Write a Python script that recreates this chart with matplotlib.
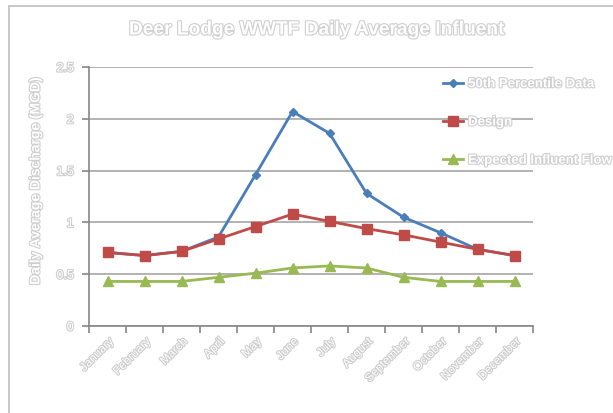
import numpy as np
import matplotlib.pyplot as plt
import matplotlib.patheffects as pe
from matplotlib.patches import Rectangle

months = ["January", "February", "March", "April", "May", "June", "July",
          "August", "September", "October", "November", "December"]
pct50 = [0.71, 0.68, 0.72, 0.86, 1.46, 2.07, 1.86, 1.28, 1.05, 0.90, 0.74, 0.68]
design = [0.71, 0.68, 0.72, 0.84, 0.96, 1.08, 1.01, 0.94, 0.88, 0.81, 0.74, 0.68]
expected = [0.43, 0.43, 0.43, 0.47, 0.51, 0.56, 0.58, 0.56, 0.47, 0.43, 0.43, 0.43]

plt.rcParams["font.family"] = ["Liberation Sans", "DejaVu Sans"]

# white lettering with a soft grey outline
glow = [pe.withStroke(linewidth=1.6, foreground="#cfcfcf")]
txt = dict(color="white", path_effects=glow)

fig = plt.figure(figsize=(6.13, 4.13), dpi=100)
fig.patches.append(Rectangle((9 / 613, -0.1), 1.2, 1 - 6 / 413 + 0.1,
                             transform=fig.transFigure, fill=False,
                             edgecolor="#bfbfbf", linewidth=1.2))
ax = fig.add_axes([89 / 613, 1 - 326 / 413, 444 / 613, 259 / 413])

x = np.arange(len(months))
ax.plot(x, pct50, color="#4a7ebb", lw=2, marker="D", ms=4.5, label="50th Percentile Data")
ax.plot(x, design, color="#be4b48", lw=2, marker="s", ms=6.5, label="Design")
ax.plot(x, expected, color="#98b954", lw=2, marker="^", ms=7, label="Expected Influent Flow")

ax.set_xlim(-0.5, 11.5)
ax.set_ylim(0, 2.5)
ax.set_yticks([0, 0.5, 1, 1.5, 2, 2.5], ["0", "0.5", "1", "1.5", "2", "2.5"])
ax.yaxis.grid(True, color="#a6a6a6", lw=1.2)
ax.set_axisbelow(True)
ax.set_xticks(x, months)
ax.set_xticks(np.arange(-0.5, 12), minor=True)
ax.tick_params(axis="x", which="major", length=0, pad=7)
ax.tick_params(axis="x", which="minor", length=5, color="#868686", width=1.2)
ax.tick_params(axis="y", length=5, color="#868686", width=1.2, pad=6)
for s in ["top", "right"]:
    ax.spines[s].set_visible(False)
for s in ["left", "bottom"]:
    ax.spines[s].set_color("#868686")
    ax.spines[s].set_linewidth(1.2)

for lab in ax.get_xticklabels():
    lab.set_rotation(45)
    lab.set_ha("right")
    lab.set_rotation_mode("anchor")
    lab.set_fontsize(8.5)
    lab.update(txt)
for lab in ax.get_yticklabels():
    lab.set_fontsize(9)
    lab.update(txt)

ax.set_ylabel("Daily Average Discharge (MGD)", fontsize=10, fontweight="bold", **txt)
ax.yaxis.set_label_coords(-0.105, 0.56)
fig.text(316 / 613, 1 - 30 / 413, "Deer Lodge WWTF Daily Average Influent",
         ha="center", va="center", fontsize=13.8, fontweight="bold", **txt)

leg = fig.legend(loc="upper left", bbox_to_anchor=(443 / 613, 1 - 78 / 413),
                 frameon=False, fontsize=9.5, labelspacing=1.97, handlelength=1.55,
                 handletextpad=0.35, borderpad=0, borderaxespad=0)
for t in leg.get_texts():
    t.set_fontweight("bold")
    t.update(txt)

fig.savefig("out.png", dpi=100)
